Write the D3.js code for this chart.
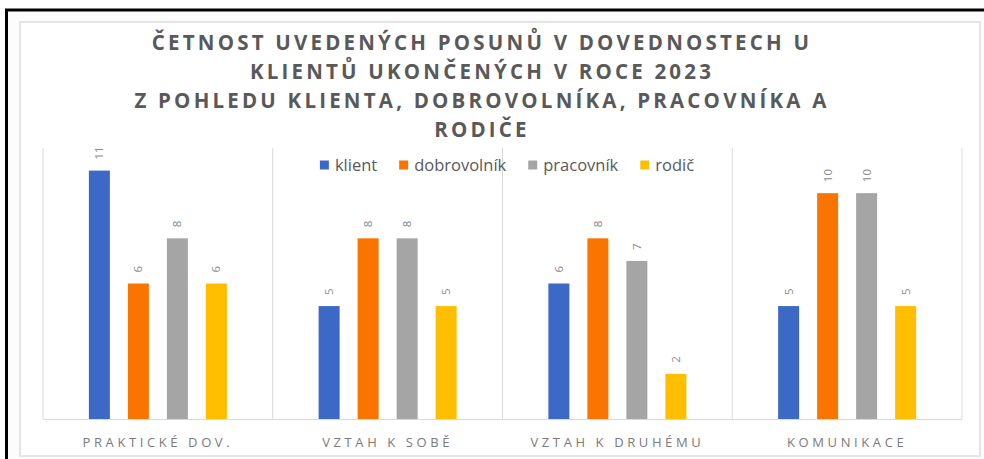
<!DOCTYPE html>
<html>
<head>
<meta charset="utf-8">
<script src="https://cdn.jsdelivr.net/npm/d3@7"></script>
<style>
  html, body { margin: 0; padding: 0; background: #fff; }
  svg { display: block; font-family: "Open Sans", sans-serif; }
</style>
</head>
<body>
<svg id="chart" width="984" height="459"></svg>
<script>
const categories = ['PRAKTICKÉ DOV.', 'VZTAH K SOBĚ', 'VZTAH K DRUHÉMU', 'KOMUNIKACE'];
const seriesNames = ['klient', 'dobrovolník', 'pracovník', 'rodič'];
const klient = [11, 5, 6, 5];
const dobrovolnik = [6, 8, 8, 10];
const pracovnik = [8, 8, 7, 10];
const rodic = [6, 5, 2, 5];
const titleLines = [
  'ČETNOST UVEDENÝCH POSUNŮ V DOVEDNOSTECH U',
  'KLIENTŮ UKONČENÝCH V ROCE 2023',
  'Z POHLEDU KLIENTA, DOBROVOLNÍKA, PRACOVNÍKA A',
  'RODIČE'
];

const seriesValues = [klient, dobrovolnik, pracovnik, rodic];
const colors = ['#3d69c6', '#f97500', '#a5a5a5', '#ffbf00'];

const svg = d3.select('#chart');

// outer black frame (runs off the right/bottom edge)
svg.append('rect')
  .attr('x', 6.5).attr('y', 10)
  .attr('width', 1000).attr('height', 500)
  .attr('fill', '#fcfcfc')
  .attr('stroke', '#000').attr('stroke-width', 3);

// chart area
svg.append('rect')
  .attr('x', 20).attr('y', 22)
  .attr('width', 960).attr('height', 434)
  .attr('fill', '#fff')
  .attr('stroke', '#e4e4e4').attr('stroke-width', 2);

const plot = { left: 43, right: 962, top: 148, bottom: 419 };

const x0 = d3.scaleBand()
  .domain(categories)
  .range([plot.left, plot.right])
  .paddingInner(0).paddingOuter(0);

const x1 = d3.scaleBand()
  .domain(seriesNames)
  .range([0, x0.bandwidth()])
  .paddingInner(0.4615)
  .paddingOuter(1.176);

const y = d3.scaleLinear()
  .domain([0, 12])
  .range([plot.bottom, plot.top]);

// separators between categories
svg.append('g')
  .selectAll('line')
  .data(categories.concat(['end']))
  .join('line')
  .attr('x1', (d, i) => i < categories.length ? x0(d) : plot.right)
  .attr('x2', (d, i) => i < categories.length ? x0(d) : plot.right)
  .attr('y1', plot.top)
  .attr('y2', plot.bottom)
  .attr('stroke', '#d9d9d9')
  .attr('stroke-width', 1);

// x axis
const xAxis = d3.axisBottom(x0).tickSize(0).tickPadding(19);
const gx = svg.append('g')
  .attr('transform', `translate(0,${plot.bottom})`)
  .call(xAxis);
gx.select('.domain').attr('stroke', '#d9d9d9');
gx.selectAll('text')
  .attr('font-family', '"Open Sans", sans-serif')
  .attr('font-size', 13)
  .attr('fill', '#7a7a7a')
  .attr('letter-spacing', '3.6px');

const rows = categories.map((c, i) => ({
  cat: c,
  vals: seriesNames.map((s, j) => ({ series: s, color: colors[j], value: seriesValues[j][i] }))
}));

const groups = svg.append('g')
  .selectAll('g')
  .data(rows)
  .join('g')
  .attr('transform', d => `translate(${x0(d.cat)},0)`);

groups.selectAll('rect')
  .data(d => d.vals)
  .join('rect')
  .attr('x', d => x1(d.series))
  .attr('width', x1.bandwidth())
  .attr('y', d => y(d.value))
  .attr('height', d => y(0) - y(d.value))
  .attr('fill', d => d.color);

groups.selectAll('text')
  .data(d => d.vals)
  .join('text')
  .attr('transform', d => `translate(${x1(d.series) + x1.bandwidth() / 2},${y(d.value) - 11}) rotate(-90)`)
  .attr('dy', '0.35em')
  .attr('font-size', 11.5)
  .attr('fill', '#8a8a8a')
  .text(d => d.value);

// title
svg.append('text')
  .attr('x', 482)
  .attr('text-anchor', 'middle')
  .attr('font-size', 20.5)
  .attr('font-weight', 'bold')
  .attr('fill', '#595959')
  .attr('letter-spacing', '3.2px')
  .selectAll('tspan')
  .data(titleLines)
  .join('tspan')
  .attr('x', 482)
  .attr('y', (d, i) => 50 + i * 29)
  .text(d => d);

// legend
const legend = svg.append('g');
const items = legend.selectAll('g')
  .data(seriesNames)
  .join('g');
items.append('rect')
  .attr('width', 9).attr('height', 9)
  .attr('y', -4.5)
  .attr('fill', (d, i) => colors[i]);
items.append('text')
  .attr('x', 15)
  .attr('dy', '0.35em')
  .attr('font-size', 16.5)
  .attr('fill', '#595959')
  .text(d => d);
let offset = 0;
items.each(function () {
  d3.select(this).attr('transform', `translate(${offset},0)`);
  offset += 15 + this.querySelector('text').getComputedTextLength() + 22;
});
legend.attr('transform', `translate(${507 - (offset - 22) / 2},165)`);
</script>
</body>
</html>
